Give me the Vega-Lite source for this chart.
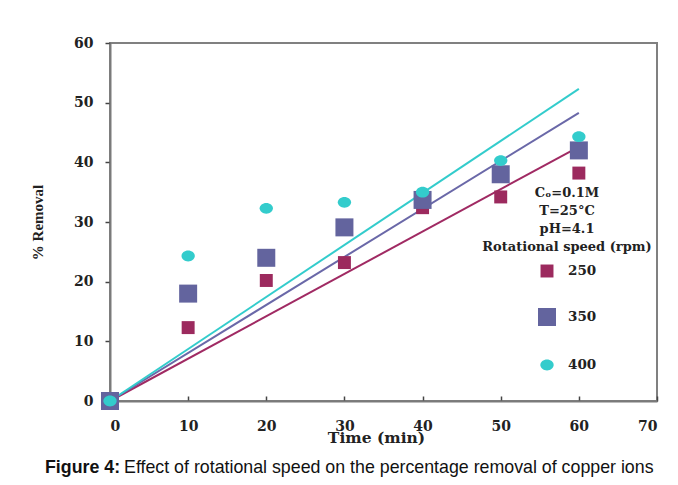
{
  "$schema": "https://vega.github.io/schema/vega-lite/v6.json",
  "width": 547,
  "height": 358,
  "autosize": "none",
  "padding": {"left": 110, "top": 43, "right": 21, "bottom": 84},
  "background": "white",
  "config": {
    "view": {"stroke": "#808080", "strokeWidth": 2},
    "font": "DejaVu Serif"
  },
  "title": {
    "text": "Figure 4:",
    "subtitle": "\u200b\u00a0\u00a0\u00a0\u00a0\u00a0\u00a0\u00a0\u00a0\u00a0\u00a0\u00a0\u00a0\u00a0\u00a0\u00a0\u00a0Effect of rotational speed on the percentage removal of copper ions",
    "orient": "bottom",
    "anchor": "start",
    "frame": "group",
    "dx": -65,
    "offset": 13,
    "font": "Liberation Sans",
    "fontSize": 17.8,
    "fontWeight": "bold",
    "color": "#111",
    "subtitleFont": "Liberation Sans",
    "subtitleFontSize": 17.8,
    "subtitleFontWeight": "normal",
    "subtitleColor": "#111",
    "subtitlePadding": -17.8
  },
  "datasets": {
    "points": [
      {"speed": "250", "time": 0, "removal": 0},
      {"speed": "250", "time": 10, "removal": 12.3},
      {"speed": "250", "time": 20, "removal": 20.2},
      {"speed": "250", "time": 30, "removal": 23.2},
      {"speed": "250", "time": 40, "removal": 32.4},
      {"speed": "250", "time": 50, "removal": 34.2},
      {"speed": "250", "time": 60, "removal": 38.2},
      {"speed": "350", "time": 0, "removal": 0},
      {"speed": "350", "time": 10, "removal": 18},
      {"speed": "350", "time": 20, "removal": 24},
      {"speed": "350", "time": 30, "removal": 29.1},
      {"speed": "350", "time": 40, "removal": 33.7},
      {"speed": "350", "time": 50, "removal": 38},
      {"speed": "350", "time": 60, "removal": 42},
      {"speed": "400", "time": 0, "removal": 0},
      {"speed": "400", "time": 10, "removal": 24.3},
      {"speed": "400", "time": 20, "removal": 32.3},
      {"speed": "400", "time": 30, "removal": 33.3},
      {"speed": "400", "time": 40, "removal": 35},
      {"speed": "400", "time": 50, "removal": 40.3},
      {"speed": "400", "time": 60, "removal": 44.3}
    ],
    "fits": [
      {"speed": "250", "time": 0, "removal": 0},
      {"speed": "250", "time": 60, "removal": 42.6},
      {"speed": "350", "time": 0, "removal": 0},
      {"speed": "350", "time": 60, "removal": 48.3},
      {"speed": "400", "time": 0, "removal": 0},
      {"speed": "400", "time": 60, "removal": 52.3}
    ]
  },
  "layer": [
    {
      "data": {"name": "fits"},
      "mark": {"type": "line", "strokeWidth": 2},
      "encoding": {
        "x": {"field": "time", "type": "quantitative"},
        "y": {"field": "removal", "type": "quantitative"},
        "detail": {"field": "speed", "type": "nominal"},
        "color": {
          "field": "speed",
          "type": "nominal",
          "scale": {"domain": ["250", "350", "400"], "range": ["#a02a63", "#6a68a8", "#33cccc"]},
          "legend": null
        }
      }
    },
    {
      "data": {"name": "points"},
      "mark": {"type": "point", "filled": true, "opacity": 1, "size": 324, "strokeWidth": 0},
      "encoding": {
        "x": {
          "field": "time",
          "type": "quantitative",
          "scale": {"domain": [0, 70], "nice": false},
          "axis": {
            "title": "Time (min)",
            "values": [0, 10, 20, 30, 40, 50, 60, 70],
            "grid": false,
            "domainColor": "#7a7a7a",
            "domainWidth": 2,
            "tickColor": "#444",
            "tickWidth": 1.5,
            "tickSize": -5,
            "labelPadding": 23,
            "labelFont": "DejaVu Serif",
            "labelFontSize": 14,
            "labelFontWeight": "bold",
            "labelColor": "#222",
            "titleFont": "DejaVu Serif",
            "titleFontSize": 15.5,
            "titleFontWeight": "bold",
            "titleColor": "#222",
            "titleBaseline": "middle",
            "titleY": 36,
            "titleX": 266
          }
        },
        "y": {
          "field": "removal",
          "type": "quantitative",
          "scale": {"domain": [0, 60], "nice": false},
          "axis": {
            "title": "% Removal",
            "values": [0, 10, 20, 30, 40, 50, 60],
            "grid": false,
            "domainColor": "#7a7a7a",
            "domainWidth": 2,
            "tickColor": "#444",
            "tickWidth": 1.5,
            "tickSize": 5,
            "labelPadding": 12,
            "labelFont": "DejaVu Serif",
            "labelFontSize": 14,
            "labelFontWeight": "bold",
            "labelColor": "#222",
            "titleFont": "Liberation Serif",
            "titleFontSize": 15,
            "titleFontWeight": "bold",
            "titleColor": "#222",
            "titlePadding": 28
          }
        },
        "fill": {
          "field": "speed",
          "type": "nominal",
          "scale": {"domain": ["250", "350", "400"], "range": ["#9c2a5e", "#63649e", "#33cccc"]},
          "legend": {
            "title": ["C\u2092=0.1M", "T=25°C", "pH=4.1", "Rotational speed (rpm)"],
            "orient": "none",
            "legendX": 372,
            "legendY": 144,
            "titleFont": "DejaVu Serif",
            "titleFontSize": 13,
            "titleFontWeight": "bold",
            "titleColor": "#222",
            "titleAlign": "center",
            "titleAnchor": "middle",
            "titleLineHeight": 18,
            "titlePadding": 8,
            "titleLimit": 300,
            "labelFont": "DejaVu Serif",
            "labelFontSize": 13.5,
            "labelFontWeight": "bold",
            "labelColor": "#222",
            "labelOffset": 12,
            "rowPadding": 30,
            "symbolSize": 324,
            "symbolStrokeWidth": 0
          }
        },
        "shape": {
          "field": "speed",
          "type": "nominal",
          "scale": {
            "domain": ["250", "350", "400"],
            "range": [
              "M-0.72,-0.72H0.72V0.72H-0.72Z",
              "M-1,-1H1V1H-1Z",
              "M-0.74,0A0.74,0.6 0 1,0 0.74,0A0.74,0.6 0 1,0 -0.74,0Z"
            ]
          },
          "legend": {
            "title": ["C\u2092=0.1M", "T=25°C", "pH=4.1", "Rotational speed (rpm)"],
            "orient": "none",
            "legendX": 372,
            "legendY": 144,
            "titleFont": "DejaVu Serif",
            "titleFontSize": 13,
            "titleFontWeight": "bold",
            "titleColor": "#222",
            "titleAlign": "center",
            "titleAnchor": "middle",
            "titleLineHeight": 18,
            "titlePadding": 8,
            "titleLimit": 300,
            "labelFont": "DejaVu Serif",
            "labelFontSize": 13.5,
            "labelFontWeight": "bold",
            "labelColor": "#222",
            "labelOffset": 12,
            "rowPadding": 30,
            "symbolSize": 324,
            "symbolStrokeWidth": 0
          }
        }
      }
    }
  ],
  "resolve": {"scale": {"color": "independent"}, "legend": {"color": "independent"}}
}
